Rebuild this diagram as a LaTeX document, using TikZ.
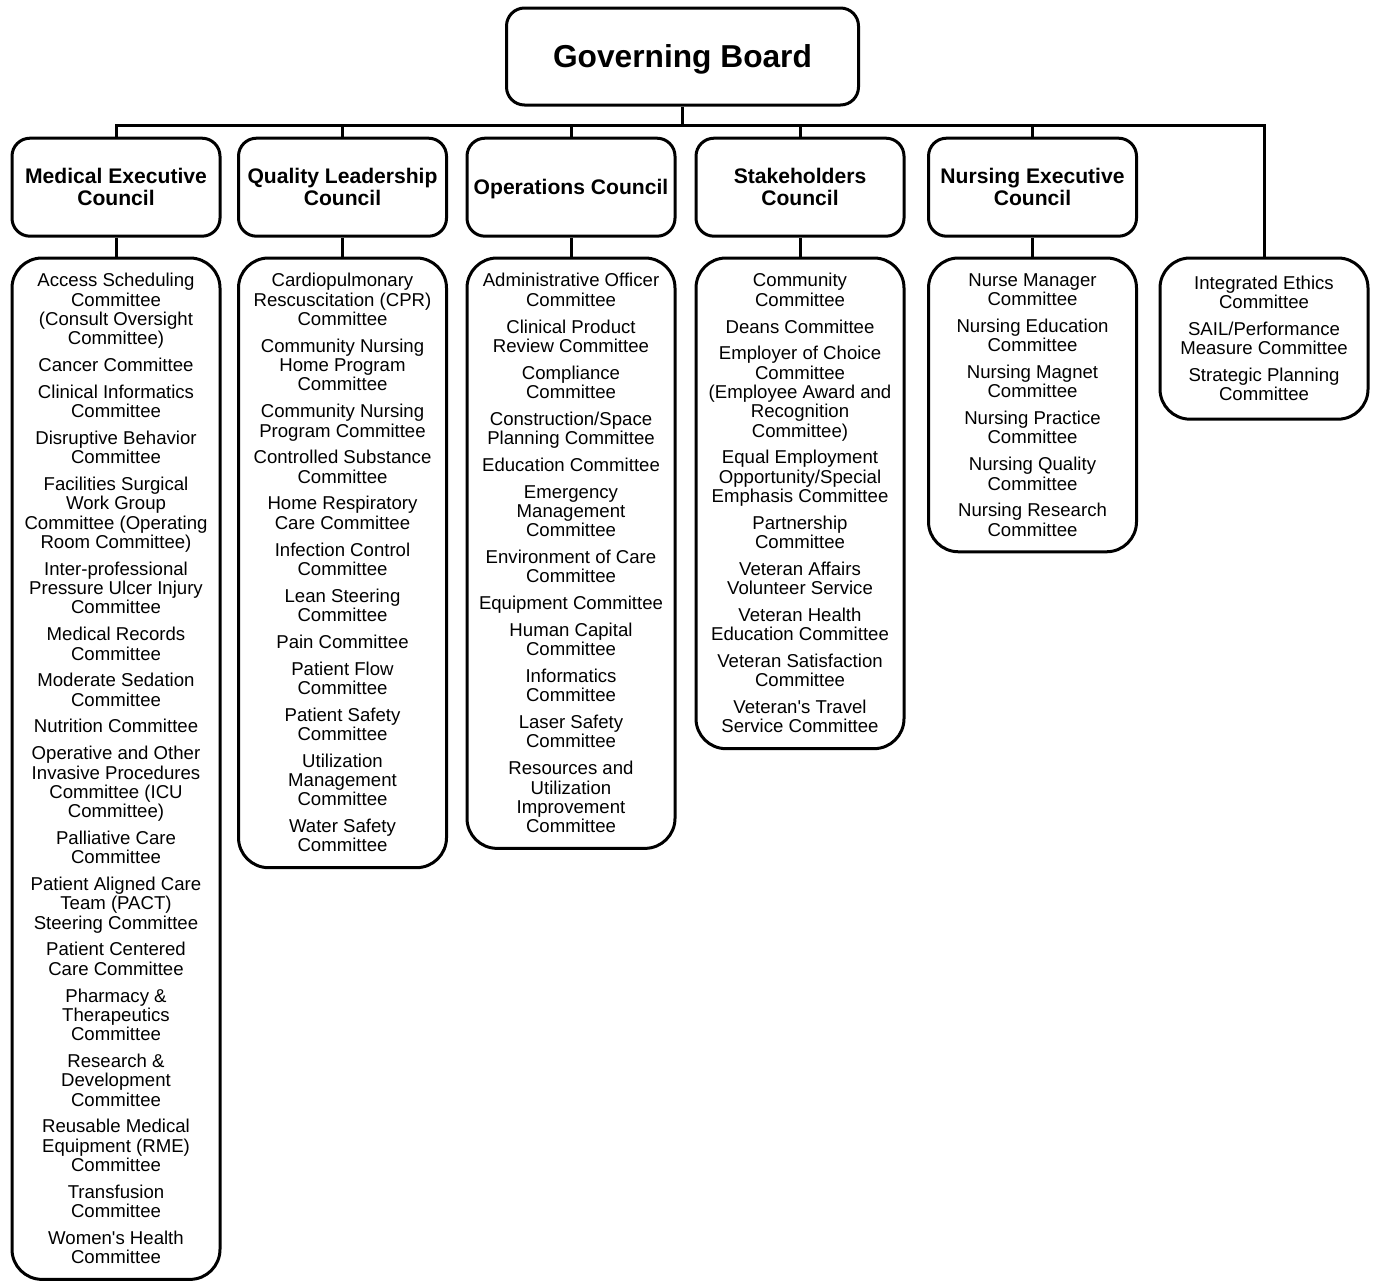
\documentclass[tikz,border=0pt]{standalone}
\usepackage{fontspec}
\setmainfont{Liberation Sans}
\usetikzlibrary{positioning}
\newcommand{\itemgap}{\\[7.5pt]}

\begin{document}
\begin{tikzpicture}[x=1pt,y=1pt,
    box/.style={draw, line width=3pt, rounded corners=18pt, align=center, inner sep=0pt},
    boardbox/.style={box, minimum width=352pt, minimum height=97pt, text depth=0pt, font=\fontsize{31.7}{38}\selectfont\bfseries},
    councilbox/.style={box, minimum width=208pt, minimum height=98pt, text depth=0pt, font=\fontsize{21.1}{22}\selectfont\bfseries},
    listbox/.style={box, rounded corners=30pt, minimum width=208pt, inner ysep=15.5pt, anchor=north, font=\fontsize{18.6}{19.3}\selectfont},
    link/.style={line width=3pt}]
  \useasboundingbox (0,0) rectangle (1375,-1282);
  % Board
  \node[boardbox] (board) at (682.5,-56.5) {Governing Board};
  % Councils
  \node[councilbox] (med) at (116,-187.2) {Medical Executive\\Council};
  \node[councilbox] (qual) at (342.5,-187.2) {Quality Leadership\\Council};
  \node[councilbox] (ops) at (571,-187.2) {Operations Council};
  \node[councilbox] (stake) at (800,-187.2) {Stakeholders\\Council};
  \node[councilbox] (nurse) at (1032.5,-187.2) {Nursing Executive\\Council};
  % Committee lists
  \node[listbox] (list-med) at (116,-256.5) {Access Scheduling\\Committee\\(Consult Oversight\\Committee)\itemgap
    Cancer Committee\itemgap
    Clinical Informatics\\Committee\itemgap
    Disruptive Behavior\\Committee\itemgap
    Facilities Surgical\\Work Group\\Committee (Operating\\Room Committee)\itemgap
    Inter-professional\\Pressure Ulcer Injury\\Committee\itemgap
    Medical Records\\Committee\itemgap
    Moderate Sedation\\Committee\itemgap
    Nutrition Committee\itemgap
    Operative and Other\\Invasive Procedures\\Committee (ICU\\Committee)\itemgap
    Palliative Care\\Committee\itemgap
    Patient Aligned Care\\Team (PACT)\\Steering Committee\itemgap
    Patient Centered\\Care Committee\itemgap
    Pharmacy \&\\Therapeutics\\Committee\itemgap
    Research \&\\Development\\Committee\itemgap
    Reusable Medical\\Equipment (RME)\\Committee\itemgap
    Transfusion\\Committee\itemgap
    Women\textquotesingle s Health\\Committee};
  \node[listbox] (list-qual) at (342.5,-256.5) {Cardiopulmonary\\Rescuscitation (CPR)\\Committee\itemgap
    Community Nursing\\Home Program\\Committee\itemgap
    Community Nursing\\Program Committee\itemgap
    Controlled Substance\\Committee\itemgap
    Home Respiratory\\Care Committee\itemgap
    Infection Control\\Committee\itemgap
    Lean Steering\\Committee\itemgap
    Pain Committee\itemgap
    Patient Flow\\Committee\itemgap
    Patient Safety\\Committee\itemgap
    Utilization\\Management\\Committee\itemgap
    Water Safety\\Committee};
  \node[listbox] (list-ops) at (571,-256.5) {Administrative Officer\\Committee\itemgap
    Clinical Product\\Review Committee\itemgap
    Compliance\\Committee\itemgap
    Construction/Space\\Planning Committee\itemgap
    Education Committee\itemgap
    Emergency\\Management\\Committee\itemgap
    Environment of Care\\Committee\itemgap
    Equipment Committee\itemgap
    Human Capital\\Committee\itemgap
    Informatics\\Committee\itemgap
    Laser Safety\\Committee\itemgap
    Resources and\\Utilization\\Improvement\\Committee};
  \node[listbox] (list-stake) at (800,-256.5) {Community\\Committee\itemgap
    Deans Committee\itemgap
    Employer of Choice\\Committee\\(Employee Award and\\Recognition\\Committee)\itemgap
    Equal Employment\\Opportunity/Special\\Emphasis Committee\itemgap
    Partnership\\Committee\itemgap
    Veteran Affairs\\Volunteer Service\itemgap
    Veteran Health\\Education Committee\itemgap
    Veteran Satisfaction\\Committee\itemgap
    Veteran\textquotesingle s Travel\\Service Committee};
  \node[listbox] (list-nurse) at (1032.5,-256.5) {Nurse Manager\\Committee\itemgap
    Nursing Education\\Committee\itemgap
    Nursing Magnet\\Committee\itemgap
    Nursing Practice\\Committee\itemgap
    Nursing Quality\\Committee\itemgap
    Nursing Research\\Committee};
  \node[listbox, inner ysep=18pt] (list-ethics) at (1264,-256.5) {Integrated Ethics\\Committee\itemgap
    SAIL/Performance\\Measure Committee\itemgap
    Strategic Planning\\Committee};
  % Connectors
  \coordinate (bus) at (0,-125);
  \draw[link] (board.south) -- (board.south |- bus);
  \draw[link] (med.north) -- (med.north |- bus) -- (list-ethics.north |- bus) -- (list-ethics.north);
  \foreach \c in {qual,ops,stake,nurse}
    \draw[link] (\c.north |- bus) -- (\c.north);
  \foreach \c in {med,qual,ops,stake,nurse}
    \draw[link] (\c.south) -- (list-\c.north);
\end{tikzpicture}
\end{document}
